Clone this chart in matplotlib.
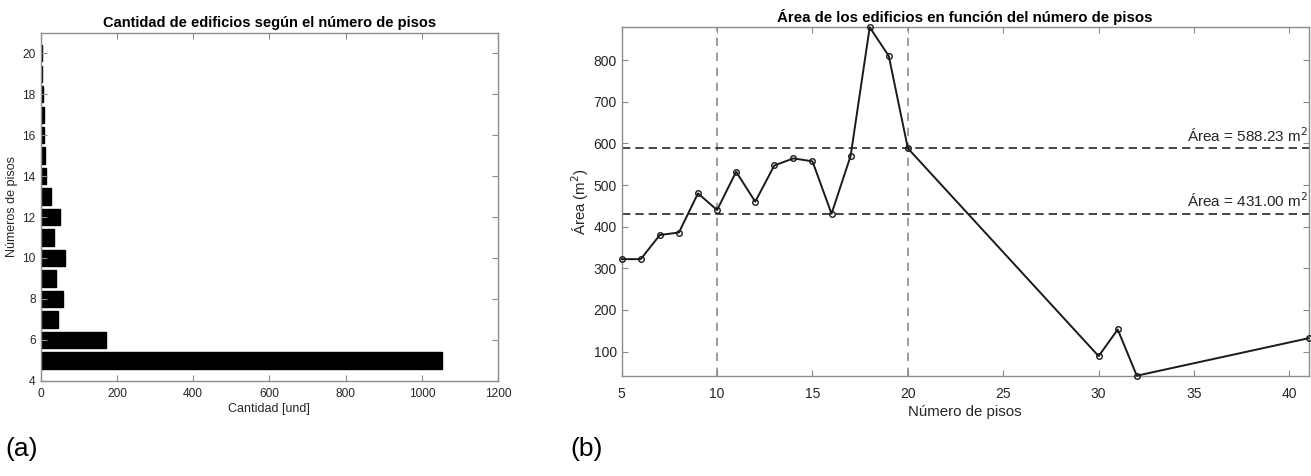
import numpy as np
import matplotlib
matplotlib.use("Agg")
import matplotlib.pyplot as plt

# =========================
# Data
# =========================
pisos = [5, 6, 7, 8, 9, 10, 11, 12, 13, 14, 15, 16, 17, 18, 19, 20]
cantidad = [1053, 171, 46, 59, 40, 65, 36, 52, 27, 14, 12, 9, 8, 5, 3, 3]

pisos_area = [5, 6, 7, 8, 9, 10, 11, 12, 13, 14, 15, 16, 17, 18, 19, 20, 30, 31, 32, 41]
area = [322, 322, 380, 386, 480, 440, 532, 460, 547, 564, 557, 431, 570, 879, 810,
        588.23, 89, 153, 42, 132]

area_lines = [588.23, 431.00]
pisos_lines = [10, 20]

plt.rcParams['font.family'] = ['Liberation Sans', 'DejaVu Sans']

fig = plt.figure(figsize=(13.11, 4.76), dpi=100)
spine_col = '#8c8c8c'
text_col = '#262626'


def matlab_style(ax, size, xpad):
    for s in ax.spines.values():
        s.set_color(spine_col)
        s.set_linewidth(1.0)
    ax.tick_params(direction='in', top=True, right=True, length=4,
                   color=spine_col, labelsize=size, labelcolor=text_col)
    ax.tick_params(axis='x', pad=xpad)


# =========================
# (a) bar chart
# =========================
ax1 = fig.add_axes([0.031, 0.2, 0.349, 0.731])
ax1.barh(pisos, cantidad, height=0.8, color='black', edgecolor='black')
ax1.set_xlim(0, 1200)
ax1.set_ylim(4, 21)
ax1.set_xticks(np.arange(0, 1201, 200))
ax1.set_yticks(np.arange(4, 21, 2))
matlab_style(ax1, 8.6, 5)
ax1.set_title("Cantidad de edificios según el número de pisos",
              fontsize=10.5, fontweight='bold', pad=4)
ax1.set_xlabel("Cantidad [und]", fontsize=9, labelpad=2, color=text_col)
ax1.set_ylabel("Números de pisos", fontsize=9, labelpad=3, color=text_col)

# =========================
# (b) line chart
# =========================
ax2 = fig.add_axes([0.4742, 0.2107, 0.5239, 0.732])
for xv in pisos_lines:
    ax2.axvline(xv, color='#8c8c8c', linestyle=(0, (5, 4)), linewidth=1.2)
for yv in area_lines:
    ax2.axhline(yv, color=text_col, linestyle=(0, (5, 3)), linewidth=1.2)
    ax2.text(40.95, yv + 8, f"Área = {yv:.2f} m$^2$", ha='right', va='bottom',
             fontsize=11, color=text_col)
ax2.plot(pisos_area, area, color='#1a1a1a', linewidth=1.4, marker='o',
         markersize=4, markerfacecolor='none', markeredgecolor='#1a1a1a',
         markeredgewidth=1.0, clip_on=False, zorder=3)
ax2.set_xlim(5, 41)
ax2.set_ylim(42, 879)
ax2.set_xticks(np.arange(5, 41, 5))
ax2.set_yticks(np.arange(100, 801, 100))
matlab_style(ax2, 10, 8)
ax2.set_title("Área de los edificios en función del número de pisos",
              fontsize=10.8, fontweight='bold', pad=4)
ax2.set_xlabel("Número de pisos", fontsize=10.8, labelpad=3, color=text_col)
ax2.set_ylabel("Área (m$^2$)", fontsize=10.8, labelpad=2, color=text_col)

fig.text(0.004, 0.042, "(a)", fontsize=19)
fig.text(0.435, 0.042, "(b)", fontsize=19)

fig.savefig("out.png", dpi=100)
